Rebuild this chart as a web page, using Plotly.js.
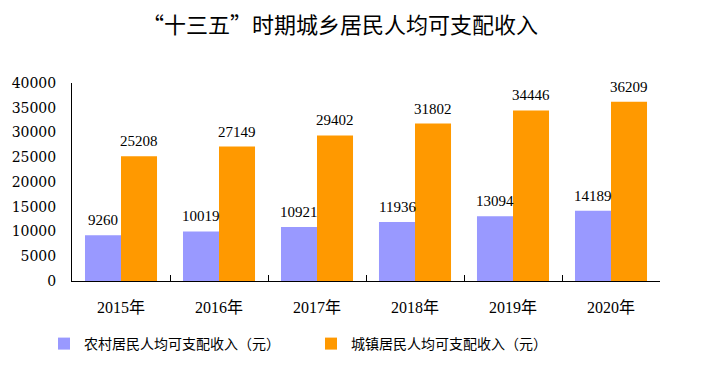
<!DOCTYPE html>
<html><head><meta charset="utf-8">
<script src="https://cdn.plot.ly/plotly-3.0.1.min.js"></script>
<style>body{margin:0;background:#fff}#c{width:705px;height:371px}</style>
</head><body><div id="c"></div>
<script>
const years = ['2015年','2016年','2017年','2018年','2019年','2020年'];
const rural = [9260, 10019, 10921, 11936, 13094, 14189];
const urban = [25208, 27149, 29402, 31802, 34446, 36209];
const ruralName = '农村居民人均可支配收入（元）';
const urbanName = '城镇居民人均可支配收入（元）';
const yTicks = [0,5000,10000,15000,20000,25000,30000,35000,40000];

const traces = [
  {type:'bar', x:years, y:rural, name:ruralName, marker:{color:'#9999FF'}, hoverinfo:'none'},
  {type:'bar', x:years, y:urban, name:urbanName, marker:{color:'#FF9900'}, hoverinfo:'none'}
];
const ann = [];
years.forEach((c,i)=>{
  ann.push({x:c, y:rural[i], xref:'x', yref:'y', text:String(rural[i]), showarrow:false, xshift:-18, yanchor:'bottom', yshift:5, font:{family:'Liberation Serif, serif', size:15, color:'#000'}});
  ann.push({x:c, y:urban[i], xref:'x', yref:'y', text:String(urban[i]), showarrow:false, xshift:18, yanchor:'bottom', yshift:5, font:{family:'Liberation Serif, serif', size:15, color:'#000'}});
});
const layout = {
  width:705, height:371,
  margin:{l:72, r:45, t:83, b:90, autoexpand:false},
  paper_bgcolor:'#fff', plot_bgcolor:'#fff',
  title:{text:'“十三五”时期城乡居民人均可支配收入', x:340/705, xanchor:'center', y:1-25/371, yanchor:'middle', font:{family:'Noto Sans CJK SC', size:22, color:'#000', weight:400}},
  barmode:'group', bargap:0.265, bargroupgap:0,
  xaxis:{showline:true, linecolor:'#000', linewidth:1, ticks:'inside', tickson:'boundaries', ticklen:6, tickcolor:'#000',
    tickfont:{family:'Liberation Serif, Noto Sans CJK SC', size:16, color:'#000'}, ticklabelstandoff:12, showgrid:false, fixedrange:true},
  yaxis:{range:[0,40000], tickvals:yTicks, tickformat:'d', showline:true, linecolor:'#000', linewidth:1, showgrid:false, zeroline:false,
    ticks:'', tickfont:{family:'DejaVu Serif, serif', size:14, color:'#000'}, ticklabelstandoff:12, fixedrange:true},
  showlegend:true,
  legend:{orientation:'h', x:44/705, xref:'container', xanchor:'left', yref:'container', y:1-328/371, yanchor:'top', entrywidth:222, entrywidthmode:'pixels',
    font:{family:'Noto Sans CJK SC', size:14, color:'#000'}, traceorder:'normal'},
  annotations:ann
};
Plotly.newPlot('c', traces, layout, {staticPlot:true});
</script></body></html>
